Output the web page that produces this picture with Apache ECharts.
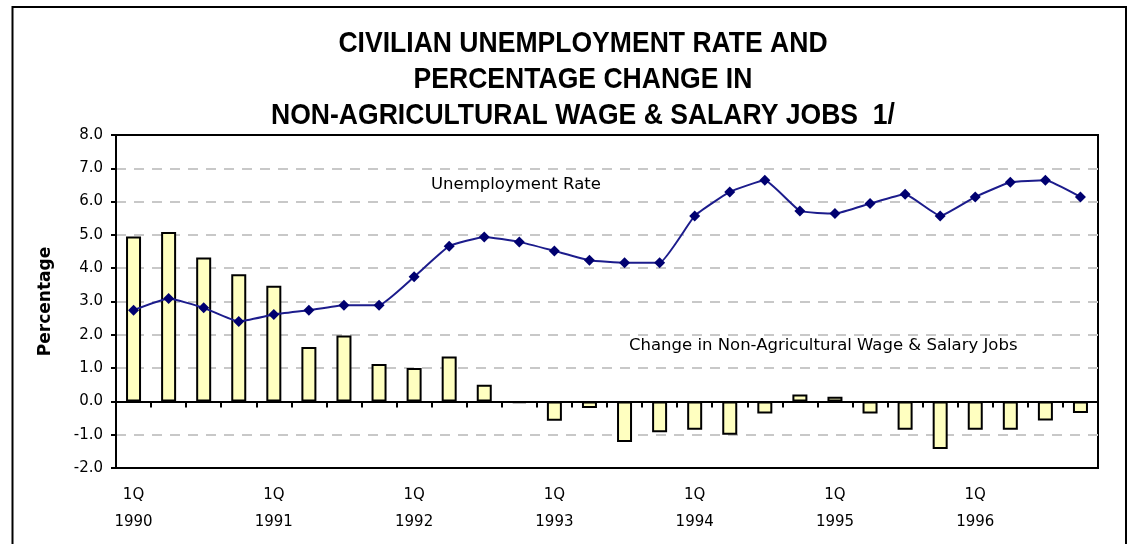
<!DOCTYPE html>
<html>
<head>
<meta charset="utf-8">
<script src="https://cdn.jsdelivr.net/npm/echarts@6/dist/echarts.min.js"></script>
<style>
  html, body { margin: 0; padding: 0; background: #fff; }
  #chart { width: 1131px; height: 544px; }
</style>
</head>
<body>
<div id="chart"></div>
<script>
// quarters 1990 Q1 .. 1996 Q4
const years = [1990, 1991, 1992, 1993, 1994, 1995, 1996];
const quarters = ["1Q", "2Q", "3Q", "4Q"];

// change in non-agricultural wage & salary jobs (%)
const jobsChange = [
  4.95, 5.09, 4.32, 3.82,
  3.47, 1.63, 1.98, 1.12,
  1.00, 1.35, 0.50, -0.05,
  -0.58, -0.20, -1.22, -0.93,
  -0.85, -1.00, -0.36, 0.21,
  0.14, -0.36, -0.85, -1.43,
  -0.85, -0.85, -0.57, -0.35
];

// civilian unemployment rate (%)
const unemploymentRate = [
  2.74, 3.09, 2.81, 2.40,
  2.61, 2.74, 2.89, 2.89,
  3.74, 4.66, 4.94, 4.79,
  4.52, 4.24, 4.16, 4.16,
  5.57, 6.29, 6.64, 5.72,
  5.64, 5.94, 6.22, 5.57,
  6.14, 6.58, 6.64, 6.14
];

const yTicks = { min: -2, max: 8, step: 1 };

const titleLines = [
  "CIVILIAN UNEMPLOYMENT RATE AND",
  "PERCENTAGE CHANGE IN",
  "NON-AGRICULTURAL WAGE & SALARY JOBS  1/"
];

const categories = [];
years.forEach(y => quarters.forEach(q => categories.push(q + " " + y)));

const SMALL_FONT = "'DejaVu Sans', 'Liberation Sans', sans-serif";

const chart = echarts.init(document.getElementById("chart"), null, { renderer: "canvas" });

chart.setOption({
  animation: false,
  backgroundColor: "#fff",
  grid: {
    left: 116, right: 33, top: 135, bottom: 76,
    show: true,
    borderColor: "#000",
    borderWidth: 2,
    backgroundColor: "#fff"
  },
  xAxis: [
    {
      // zero line with the quarter ticks
      type: "category",
      data: categories,
      boundaryGap: true,
      axisLine: { onZero: true, lineStyle: { color: "#000", width: 2 } },
      axisTick: { show: true, interval: 0, length: 6, lineStyle: { color: "#000", width: 2 } },
      axisLabel: { show: false },
      splitLine: { show: false }
    },
    {
      // year labels under the plot
      type: "category",
      data: categories,
      position: "bottom",
      boundaryGap: true,
      axisLine: { show: false, onZero: false },
      axisTick: { show: false },
      axisLabel: {
        interval: 3,
        margin: 14,
        fontFamily: SMALL_FONT,
        fontSize: 15,
        lineHeight: 27,
        color: "#000",
        formatter: (v) => v.replace(" ", "\n")
      }
    }
  ],
  yAxis: {
    type: "value",
    min: yTicks.min,
    max: yTicks.max,
    interval: yTicks.step,
    name: "Percentage",
    nameLocation: "middle",
    nameGap: 62,
    nameTextStyle: { fontFamily: SMALL_FONT, fontWeight: "bold", fontSize: 17, color: "#000" },
    axisLine: { show: true, lineStyle: { color: "#000", width: 2 } },
    axisTick: { show: true, length: 5, lineStyle: { color: "#000", width: 2 } },
    axisLabel: {
      margin: 13,
      fontFamily: SMALL_FONT,
      fontSize: 15,
      color: "#000",
      formatter: (v) => v.toFixed(1)
    },
    splitLine: {
      show: true,
      showMinLine: false,
      showMaxLine: false,
      lineStyle: { color: "#c8c8c8", width: 2, type: [10, 8] }
    }
  },
  graphic: [
    {
      type: "rect",
      shape: { x: 12.5, y: 7, width: 1113.5, height: 600 },
      style: { fill: null, stroke: "#000", lineWidth: 2 },
      silent: true,
      z: 100
    },
    {
      // condensed bold title: regular bold face squeezed horizontally
      type: "text",
      x: 583, y: 26,
      scaleX: 0.885,
      style: {
        text: titleLines.join("\n"),
        font: "bold 30px 'Liberation Sans', Arial, sans-serif",
        lineHeight: 36,
        textAlign: "center",
        textVerticalAlign: "top",
        fill: "#000"
      },
      z: 100
    },
    {
      type: "text",
      left: 431, top: 176,
      style: { text: "Unemployment Rate", font: "16.5px " + SMALL_FONT, fill: "#000" },
      z: 100
    },
    {
      type: "text",
      left: 629, top: 337,
      style: { text: "Change in Non-Agricultural Wage & Salary Jobs", font: "16.5px " + SMALL_FONT, fill: "#000" },
      z: 100
    }
  ],
  series: [
    {
      name: "Change in Non-Agricultural Wage & Salary Jobs",
      type: "bar",
      data: jobsChange,
      barWidth: 15,
      itemStyle: { color: "#ffffc0", borderColor: "#000", borderWidth: 2 },
      z: 2
    },
    {
      name: "Unemployment Rate",
      type: "line",
      data: unemploymentRate,
      smooth: 0.12,
      symbol: "diamond",
      symbolSize: 11,
      lineStyle: { color: "#1c1c8c", width: 2 },
      itemStyle: { color: "#000070" },
      z: 3
    }
  ]
});
</script>
</body>
</html>
